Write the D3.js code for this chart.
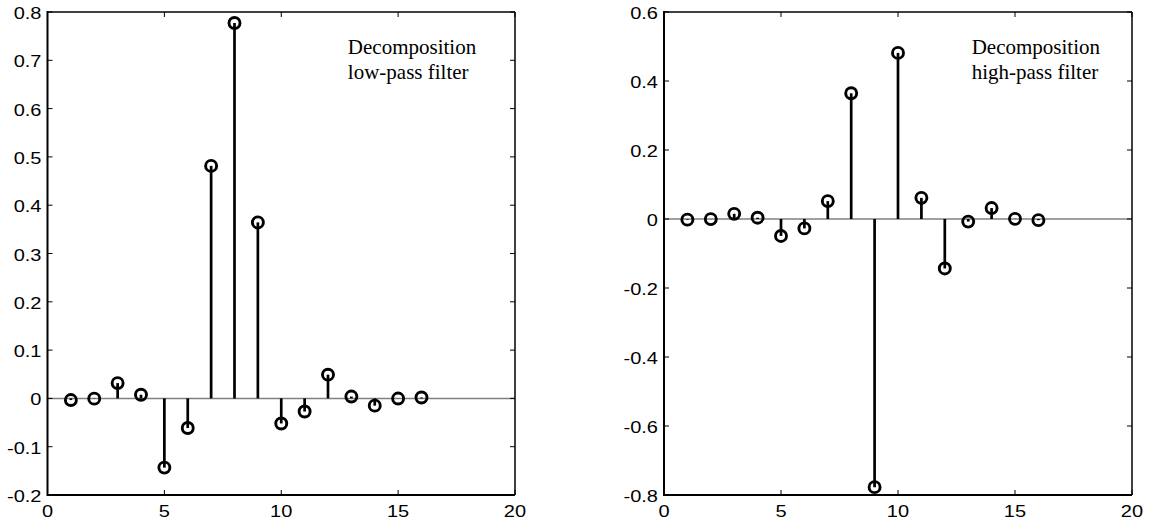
<!DOCTYPE html>
<html>
<head>
<meta charset="utf-8">
<script src="https://cdn.jsdelivr.net/npm/d3@7"></script>
<style>
  body { margin: 0; background: #fff; }
  svg { display: block; }
</style>
</head>
<body>
<div id="plot"></div>
<script>
// filter taps 1..16
let taps = [1, 2, 3, 4, 5, 6, 7, 8, 9, 10, 11, 12, 13, 14, 15, 16];
let lowPass = [-0.0034, -0.0005, 0.0317, 0.0076, -0.1433, -0.0613, 0.4814, 0.7772,
               0.3644, -0.0519, -0.0272, 0.0491, 0.0038, -0.0150, -0.0003, 0.0019];
let highPass = [-0.0019, -0.0003, 0.0150, 0.0038, -0.0491, -0.0272, 0.0519, 0.3644,
                -0.7772, 0.4814, 0.0613, -0.1433, -0.0076, 0.0317, 0.0005, -0.0034];

let xTicks = [0, 5, 10, 15, 20];
let yTicksLow = [-0.2, -0.1, 0, 0.1, 0.2, 0.3, 0.4, 0.5, 0.6, 0.7, 0.8];
let yTicksHigh = [-0.8, -0.6, -0.4, -0.2, 0, 0.2, 0.4, 0.6];

let labelLow = ['Decomposition', 'low-pass filter'];
let labelHigh = ['Decomposition', 'high-pass filter'];

let W = 1153, H = 523;

let svg = d3.select('#plot')
    .append('svg')
        .attr('width', W)
        .attr('height', H);

function stemPlot(opts) {
    let x = d3.scaleLinear().domain([0, 20]).range([opts.left, opts.right]);
    let y = d3.scaleLinear().domain(opts.yDomain).range([opts.bottom, opts.top]);
    let g = svg.append('g');
    let tl = 5;

    // zero baseline
    g.append('line')
        .attr('x1', x(0)).attr('x2', x(20))
        .attr('y1', y(0)).attr('y2', y(0))
        .attr('stroke', '#808080')
        .attr('stroke-width', 1.5);

    // ticks, inward on all four sides
    xTicks.forEach(function(t) {
        g.append('line')
            .attr('x1', x(t)).attr('x2', x(t))
            .attr('y1', y.range()[0]).attr('y2', y.range()[0] - tl)
            .attr('stroke', '#000').attr('stroke-width', 1);
        g.append('line')
            .attr('x1', x(t)).attr('x2', x(t))
            .attr('y1', y.range()[1]).attr('y2', y.range()[1] + tl)
            .attr('stroke', '#000').attr('stroke-width', 1);
        g.append('text')
            .attr('transform', 'translate(' + x(t) + ',' + (y.range()[0] + 22) + ') scale(1.25,1)')
            .attr('text-anchor', 'middle')
            .style('font-family', 'Liberation Sans, Arial, sans-serif')
            .style('font-size', '16px')
            .text(String(t));
    });
    opts.yTicks.forEach(function(t) {
        g.append('line')
            .attr('x1', x(0)).attr('x2', x(0) + tl)
            .attr('y1', y(t)).attr('y2', y(t))
            .attr('stroke', '#000').attr('stroke-width', 1);
        g.append('line')
            .attr('x1', x(20)).attr('x2', x(20) - tl)
            .attr('y1', y(t)).attr('y2', y(t))
            .attr('stroke', '#000').attr('stroke-width', 1);
        g.append('text')
            .attr('transform', 'translate(' + (x(0) - 6) + ',' + (y(t) + 7) + ') scale(1.25,1)')
            .attr('text-anchor', 'end')
            .style('font-family', 'Liberation Sans, Arial, sans-serif')
            .style('font-size', '16px')
            .text(String(t));
    });

    // box
    g.append('line')
        .attr('x1', x(0)).attr('x2', x(20))
        .attr('y1', y.range()[1]).attr('y2', y.range()[1])
        .attr('stroke', '#000').attr('stroke-width', 1.5);
    g.append('line')
        .attr('x1', x(20)).attr('x2', x(20))
        .attr('y1', y.range()[1]).attr('y2', y.range()[0])
        .attr('stroke', '#000').attr('stroke-width', 1.5);
    g.append('line')
        .attr('x1', x(0)).attr('x2', x(20))
        .attr('y1', y.range()[0]).attr('y2', y.range()[0])
        .attr('stroke', '#000').attr('stroke-width', 2);
    g.append('line')
        .attr('x1', x(0)).attr('x2', x(0))
        .attr('y1', y.range()[1] - 1).attr('y2', y.range()[0] + 1)
        .attr('stroke', '#000').attr('stroke-width', 2);

    let data = taps.map(function(t, i) { return { n: t, v: opts.values[i] }; });

    g.selectAll('.stem')
        .data(data)
        .enter()
        .append('line')
            .attr('x1', function(d) { return x(d.n); })
            .attr('x2', function(d) { return x(d.n); })
            .attr('y1', y(0))
            .attr('y2', function(d) { return y(d.v); })
            .attr('stroke', '#000')
            .attr('stroke-width', 2.7);

    g.selectAll('.mark')
        .data(data)
        .enter()
        .append('circle')
            .attr('cx', function(d) { return x(d.n); })
            .attr('cy', function(d) { return y(d.v); })
            .attr('r', 5.5)
            .attr('fill', 'none')
            .attr('stroke', '#000')
            .attr('stroke-width', 2.9);

    g.append('text')
        .attr('x', x(opts.textAt[0]))
        .attr('y', y(opts.textAt[1]))
        .style('font-family', 'Liberation Serif, Times New Roman, serif')
        .style('font-size', '21px')
        .selectAll('tspan')
        .data(opts.label)
        .enter()
        .append('tspan')
            .attr('x', x(opts.textAt[0]))
            .attr('dy', function(d, i) { return i === 0 ? 0 : 25; })
            .text(function(d) { return d; });
}

stemPlot({
    left: 47.5, right: 515, top: 12, bottom: 495,
    yDomain: [-0.2, 0.8], yTicks: yTicksLow, values: lowPass,
    label: labelLow, textAt: [12.85, 0.713]
});

stemPlot({
    left: 664, right: 1132, top: 12, bottom: 495,
    yDomain: [-0.8, 0.6], yTicks: yTicksHigh, values: highPass,
    label: labelHigh, textAt: [13.15, 0.478]
});
</script>
</body>
</html>
